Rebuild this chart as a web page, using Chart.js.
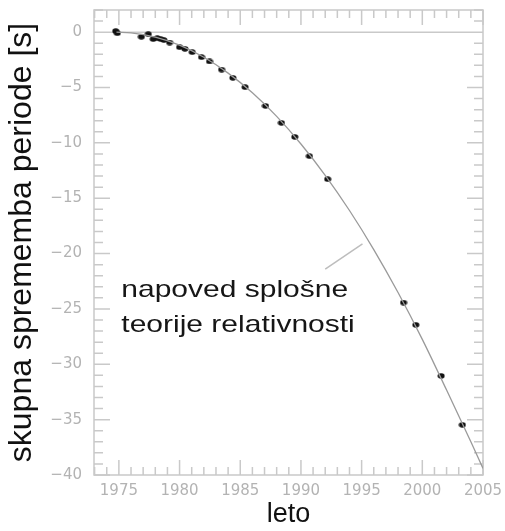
<!DOCTYPE html>
<html>
<head>
<meta charset="utf-8">
<script src="https://cdn.jsdelivr.net/npm/chart.js@4"></script>
<style>
    html, body { margin: 0; padding: 0; background: #fff; }
    #wrap { width: 505px; height: 531px; }
</style>
</head>
<body>
<div id="wrap"><canvas id="pulsarChart" width="505" height="531"></canvas></div>
<script>
/* merjene tocke (leto, skupna sprememba periode v s) */
const obsYears = [1974.74, 1974.87, 1976.85, 1977.42, 1977.83, 1978.16, 1978.44, 1978.71, 1979.18, 1980.0,
    1980.44, 1981.04, 1981.81, 1982.47, 1983.46, 1984.39, 1985.4, 1987.08, 1988.39, 1989.49,
    1990.7, 1992.2, 1998.45, 1999.46, 2001.55, 2003.3];
const obsShift = [0.1, -0.1, -0.42, -0.18, -0.63, -0.54, -0.63, -0.72, -0.94, -1.36,
    -1.51, -1.81, -2.26, -2.65, -3.38, -4.13, -4.97, -6.66, -8.19, -9.46,
    -11.2, -13.28, -24.43, -26.44, -31.05, -35.47];

/* napoved splosne teorije relativnosti (krivulja) */
const grYears = [1974.8, 1976, 1978, 1980, 1982, 1984, 1986, 1988, 1990, 1992, 1994, 1996, 1998, 2000, 2002, 2004, 2005];
const grShift = [0, -0.06, -0.45, -1.18, -2.27, -3.7, -5.48, -7.61, -10.1, -12.93, -16.11, -19.64, -23.52, -27.75, -32.33, -37.0, -39.4];

/* kazalec od besedila do krivulje */
const pointerYears = [1992.0, 1995.07];
const pointerShift = [-21.41, -19.12];

const noteLines = ['napoved splošne', 'teorije relativnosti'];
const noteYear = 1975.2;
const noteShift = [-23.9, -27.1];

const xTickValues = [1975, 1980, 1985, 1990, 1995, 2000, 2005];
const yTickValues = [0, -5, -10, -15, -20, -25, -30, -35, -40];

const xRange = [1972.95, 2005];
const yRange = [-40, 2];

/* =========================================
   POMOZNE FUNKCIJE
   ========================================= */
function dotImage() {
    const c = document.createElement('canvas');
    c.width = 8;
    c.height = 6;
    const g = c.getContext('2d');
    g.fillStyle = '#111';
    g.beginPath();
    g.ellipse(4, 3, 3.5, 2.7, 0, 0, Math.PI * 2);
    g.fill();
    return c;
}

function toPoints(xs, ys) {
    return xs.map((x, i) => ({ x: x, y: ys[i] }));
}

// okvir z notranjimi oznakami na vseh stirih straneh + nicelna crta
const framePlugin = {
    id: 'frame',
    beforeDatasetsDraw(chart) {
        const { ctx, chartArea: a, scales: { x, y } } = chart;
        ctx.save();
        ctx.strokeStyle = '#c9c9c9';
        ctx.lineWidth = 1.5;
        ctx.strokeRect(a.left, a.top, a.right - a.left, a.bottom - a.top);

        const y0 = y.getPixelForValue(0);
        ctx.beginPath();
        ctx.moveTo(a.left, y0);
        ctx.lineTo(a.right, y0);

        for (let v = Math.ceil(xRange[0]); v <= xRange[1]; v++) {
            const px = x.getPixelForValue(v);
            const len = xTickValues.includes(v) ? 15 : 8;
            ctx.moveTo(px, a.bottom);
            ctx.lineTo(px, a.bottom - len);
            ctx.moveTo(px, a.top);
            ctx.lineTo(px, a.top + len);
        }
        for (let v = yRange[0]; v <= yRange[1]; v++) {
            const py = y.getPixelForValue(v);
            const len = yTickValues.includes(v) ? 16 : 9;
            ctx.moveTo(a.left, py);
            ctx.lineTo(a.left + len, py);
            ctx.moveTo(a.right, py);
            ctx.lineTo(a.right - len, py);
        }
        ctx.stroke();
        ctx.restore();
    }
};

// besedilo v grafu
const notePlugin = {
    id: 'note',
    afterDatasetsDraw(chart) {
        const { ctx, scales: { x, y } } = chart;
        ctx.save();
        ctx.fillStyle = '#161616';
        ctx.font = '24px "Liberation Sans", Arial, sans-serif';
        ctx.textBaseline = 'alphabetic';
        const px = x.getPixelForValue(noteYear);
        noteLines.forEach((line, i) => {
            const py = y.getPixelForValue(noteShift[i]);
            ctx.save();
            ctx.translate(px, py);
            ctx.scale(1.25, 1);
            ctx.fillText(line, 0, 0);
            ctx.restore();
        });
        ctx.restore();
    }
};

/* =========================================
   GRAF
   ========================================= */
function renderChart() {
    const ctx = document.getElementById('pulsarChart');
    const tickFont = { family: '"DejaVu Sans", sans-serif', size: 15 };

    new Chart(ctx, {
        type: 'scatter',
        data: {
            datasets: [
                {
                    data: toPoints(grYears, grShift),
                    showLine: true,
                    borderColor: '#9a9a9a',
                    borderWidth: 1.3,
                    pointRadius: 0,
                    cubicInterpolationMode: 'monotone'
                },
                {
                    data: toPoints(pointerYears, pointerShift),
                    showLine: true,
                    borderColor: '#bdbdbd',
                    borderWidth: 1.5,
                    pointRadius: 0
                },
                {
                    data: toPoints(obsYears, obsShift),
                    pointStyle: dotImage(),
                    pointRadius: 3
                }
            ]
        },
        options: {
            responsive: false,
            animation: false,
            layout: { padding: { top: 10, right: 22, left: 0, bottom: 0 } },
            plugins: { legend: { display: false }, tooltip: { enabled: false } },
            scales: {
                x: {
                    type: 'linear',
                    min: xRange[0],
                    max: xRange[1],
                    grid: { display: false, drawTicks: false },
                    border: { display: false },
                    afterBuildTicks: (scale) => { scale.ticks = xTickValues.map(v => ({ value: v })); },
                    afterFit: (scale) => {
                        scale.height = 56;
                        scale.paddingLeft = 0;
                        scale.paddingRight = 0;
                    },
                    ticks: {
                        autoSkip: false,
                        maxRotation: 0,
                        padding: 7,
                        color: '#b3b3b3',
                        font: tickFont,
                        callback: (val) => String(val)
                    },
                    title: {
                        display: true,
                        text: 'leto',
                        color: '#111',
                        font: { family: '"Liberation Sans", Arial, sans-serif', size: 27 },
                        padding: { top: 0, bottom: 0 }
                    }
                },
                y: {
                    type: 'linear',
                    min: yRange[0],
                    max: yRange[1],
                    grid: { display: false, drawTicks: false },
                    border: { display: false },
                    afterBuildTicks: (scale) => { scale.ticks = yTickValues.map(v => ({ value: v })); },
                    afterFit: (scale) => {
                        scale.width = 94;
                        scale.paddingTop = 0;
                        scale.paddingBottom = 0;
                    },
                    ticks: {
                        autoSkip: false,
                        padding: 12,
                        color: '#b3b3b3',
                        font: tickFont,
                        callback: (val) => val < 0 ? '\u2212' + Math.abs(val) : String(val)
                    },
                    title: {
                        display: true,
                        text: 'skupna sprememba periode [s]',
                        color: '#111',
                        font: { family: '"Liberation Sans", Arial, sans-serif', size: 32 },
                        padding: { top: 3, bottom: 0 }
                    }
                }
            }
        },
        plugins: [framePlugin, notePlugin]
    });
}

document.addEventListener('DOMContentLoaded', renderChart);
</script>
</body>
</html>
